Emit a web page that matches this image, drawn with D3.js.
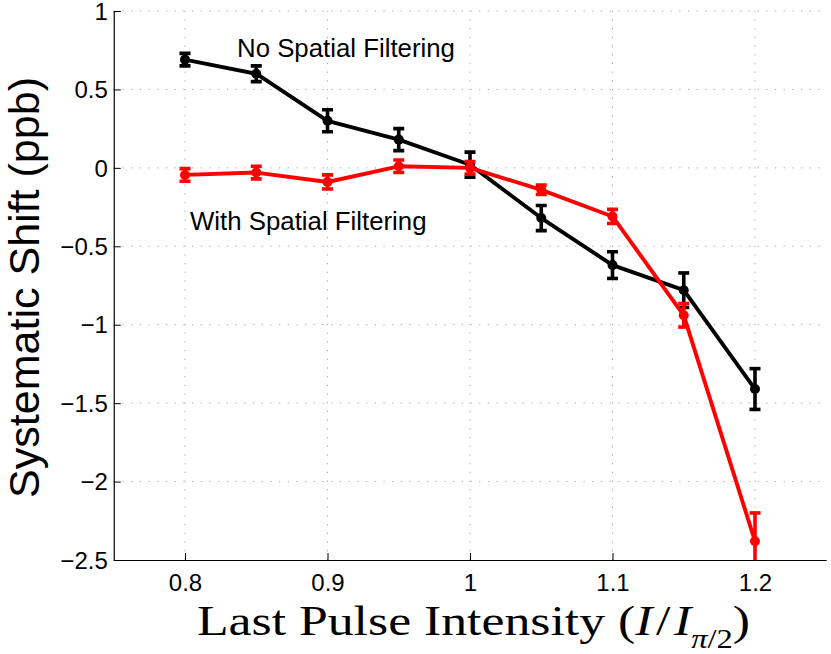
<!DOCTYPE html>
<html lang="en">

<head>
    <meta charset="UTF-8">
    <title>Systematic Shift vs Last Pulse Intensity</title>
    <style>
        body {
            margin: 0;
            background-color: #fff;
        }

        svg {
            display: block;
        }

        .tick-label {
            font-family: 'Liberation Sans', Arial, sans-serif;
            font-size: 24px;
            fill: #000;
        }

        .annotation {
            font-family: 'Liberation Sans', Arial, sans-serif;
            font-size: 25.8px;
            fill: #000;
        }
    </style>
    <script src="https://d3js.org/d3.v7.min.js"></script>
</head>

<body>
    <div id="chart"></div>
    <script>
        // values
        const intensity = [0.8, 0.85, 0.9, 0.95, 1.0, 1.05, 1.1, 1.15, 1.2];
        const noFilter = [0.69, 0.60, 0.30, 0.18, 0.02, -0.32, -0.62, -0.78, -1.41];
        const noFilterErr = [0.04, 0.05, 0.07, 0.07, 0.08, 0.08, 0.085, 0.11, 0.13];
        const withFilter = [-0.045, -0.03, -0.09, 0.01, 0.0, -0.14, -0.31, -0.94, -2.38];
        const withFilterErr = [0.04, 0.04, 0.045, 0.04, 0.04, 0.03, 0.045, 0.075, 0.18];

        const xTicks = [0.8, 0.9, 1.0, 1.1, 1.2];
        const yTicks = [-2.5, -2, -1.5, -1, -0.5, 0, 0.5, 1];

        const series = [
            { name: "No Spatial Filtering", color: "#000", values: noFilter, errors: noFilterErr, label: [0.8365, 0.707] },
            { name: "With Spatial Filtering", color: "#ff0000", values: withFilter, errors: withFilterErr, label: [0.8035, -0.397] }
        ];

        const width = 831;
        const height = 654;
        const margin = { top: 11, right: 4.75, bottom: 94, left: 113.75 };

        const x = d3.scaleLinear()
            .domain([0.75, 1.25])
            .range([margin.left, width - margin.right]);

        const y = d3.scaleLinear()
            .domain([-2.5, 1])
            .range([height - margin.bottom, margin.top]);

        const svg = d3.select("#chart").append("svg")
            .attr("width", width)
            .attr("height", height);

        svg.append("defs").append("clipPath")
            .attr("id", "plot-clip")
            .append("rect")
            .attr("x", x.range()[0])
            .attr("y", y.range()[1] - 10)
            .attr("width", x.range()[1] - x.range()[0])
            .attr("height", y.range()[0] - y.range()[1] + 10);

        // dotted grid
        const grid = svg.append("g")
            .attr("stroke", "#a6a6a6")
            .attr("stroke-width", 1)
            .attr("stroke-dasharray", "1.2,7.5");

        grid.selectAll(".gx")
            .data(xTicks)
            .join("line")
            .attr("x1", d => x(d))
            .attr("x2", d => x(d))
            .attr("y1", y.range()[0])
            .attr("y2", y.range()[1]);

        grid.selectAll(".gy")
            .data(yTicks.filter(d => d > -2.5))
            .join("line")
            .attr("class", "gy")
            .attr("x1", x.range()[0])
            .attr("x2", x.range()[1])
            .attr("y1", d => y(d))
            .attr("y2", d => y(d));

        // axes, inward ticks like matlab
        const fmt = d3.format("~g");

        const xAxis = svg.append("g")
            .attr("transform", `translate(0,${y.range()[0]})`)
            .call(d3.axisBottom(x).tickValues(xTicks).tickFormat(fmt).tickSizeInner(-7).tickSizeOuter(0).tickPadding(14));

        const yAxis = svg.append("g")
            .attr("transform", `translate(${x.range()[0]},0)`)
            .call(d3.axisLeft(y).tickValues(yTicks).tickFormat(fmt).tickSizeInner(-7).tickSizeOuter(0).tickPadding(6));

        [xAxis, yAxis].forEach(a => {
            a.select(".domain").attr("stroke", "#000").attr("stroke-width", 1.2);
            a.selectAll(".tick line").attr("stroke", "#000").attr("stroke-width", 1);
            a.selectAll(".tick text")
                .attr("class", "tick-label")
                .attr("font-family", null)
                .attr("font-size", null);
        });
        xAxis.selectAll(".tick text").attr("dy", "0.71em");
        yAxis.selectAll(".tick text").attr("dy", "0.34em");

        // data
        const plot = svg.append("g").attr("clip-path", "url(#plot-clip)");

        const line = d3.line()
            .x((d, i) => x(intensity[i]))
            .y(d => y(d));

        const capHalf = 5.5;

        series.forEach(s => {
            const g = plot.append("g");

            g.append("path")
                .datum(s.values)
                .attr("fill", "none")
                .attr("stroke", s.color)
                .attr("stroke-width", 3.9)
                .attr("stroke-linejoin", "round")
                .attr("d", line);

            const bars = g.selectAll(".err")
                .data(s.values.map((v, i) => ({ x: intensity[i], v: v, e: s.errors[i] })))
                .join("g")
                .attr("stroke", s.color)
                .attr("stroke-width", 3.6);

            bars.append("line")
                .attr("x1", d => x(d.x))
                .attr("x2", d => x(d.x))
                .attr("y1", d => y(d.v - d.e))
                .attr("y2", d => y(d.v + d.e));

            bars.append("line")
                .attr("x1", d => x(d.x) - capHalf)
                .attr("x2", d => x(d.x) + capHalf)
                .attr("y1", d => y(d.v + d.e))
                .attr("y2", d => y(d.v + d.e));

            bars.append("line")
                .attr("x1", d => x(d.x) - capHalf)
                .attr("x2", d => x(d.x) + capHalf)
                .attr("y1", d => y(d.v - d.e))
                .attr("y2", d => y(d.v - d.e));

            g.selectAll("circle")
                .data(s.values)
                .join("circle")
                .attr("cx", (d, i) => x(intensity[i]))
                .attr("cy", d => y(d))
                .attr("r", 5)
                .attr("fill", s.color);
        });

        // series annotations
        svg.selectAll(".annotation")
            .data(series)
            .join("text")
            .attr("class", "annotation")
            .attr("x", d => x(d.label[0]))
            .attr("y", d => y(d.label[1]))
            .text(d => d.name);

        // y axis title
        svg.append("text")
            .attr("transform", `translate(39,${(y.range()[0] + y.range()[1]) / 2 + 2}) rotate(-90)`)
            .attr("text-anchor", "middle")
            .attr("font-family", "'Liberation Sans', Arial, sans-serif")
            .attr("font-size", 42)
            .attr("textLength", 421)
            .attr("lengthAdjust", "spacingAndGlyphs")
            .text("Systematic Shift (ppb)");

        // x axis title, serif with math part
        const titleX = 197;
        const xTitle = svg.append("text")
            .attr("x", titleX)
            .attr("y", 635)
            .attr("font-family", "'Liberation Serif', 'Times New Roman', serif")
            .attr("font-size", 43);

        xTitle.append("tspan").text("Last Pulse Intensity (");
        xTitle.append("tspan").attr("font-style", "italic").text("I");
        xTitle.append("tspan").attr("dx", 3).text("/");
        xTitle.append("tspan").attr("dx", 3).attr("font-style", "italic").text("I");
        xTitle.append("tspan").attr("font-size", 27).attr("dy", 13).attr("font-style", "italic").text("π");
        xTitle.append("tspan").attr("font-size", 27).text("/2");
        xTitle.append("tspan").attr("dy", -13).text(")");

        // stretch the title sideways to the reference span, keeping its height
        const targetWidth = 546;
        const w = xTitle.node().getComputedTextLength();
        if (w > 0) {
            const k = targetWidth / w;
            xTitle.attr("transform", `translate(${titleX},0) scale(${k},1) translate(${-titleX},0)`);
        }
    </script>
</body>

</html>
